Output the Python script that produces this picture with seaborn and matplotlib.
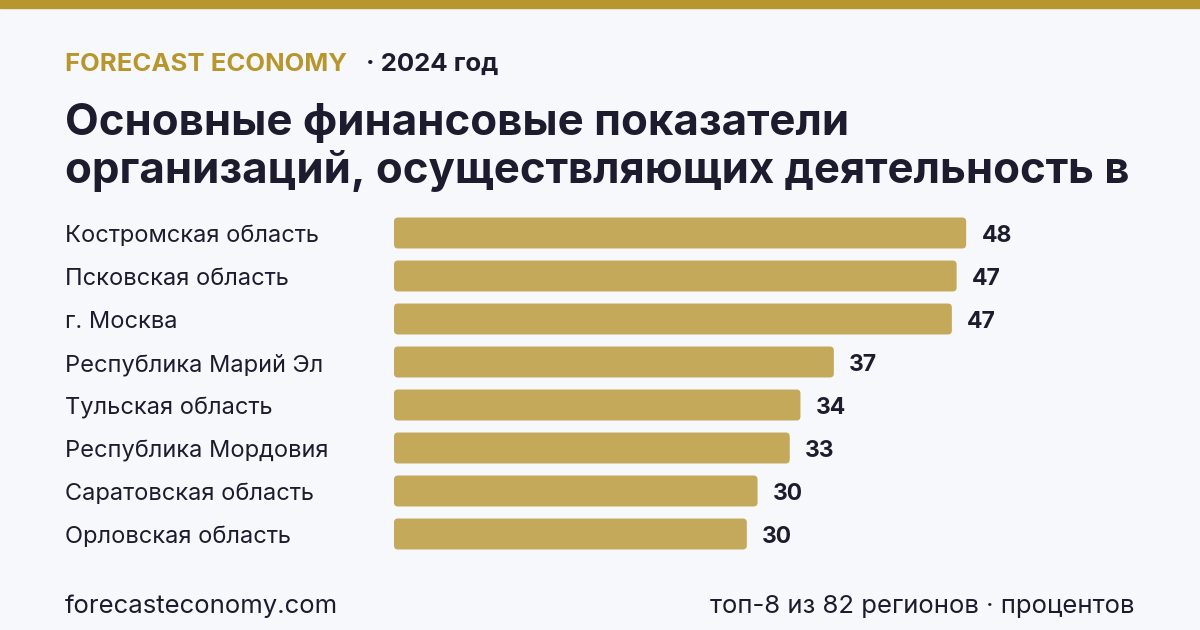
import matplotlib
matplotlib.use('Agg')
import matplotlib.pyplot as plt
import matplotlib.transforms as mtransforms
from matplotlib.patches import FancyBboxPatch
import seaborn as sns
import pandas as pd

sns.set_theme(style="white")
plt.rcParams['font.family'] = ['Inter', 'DejaVu Sans']

# Data
regions = ['Костромская область', 'Псковская область', 'г. Москва', 'Республика Марий Эл',
           'Тульская область', 'Республика Мордовия', 'Саратовская область', 'Орловская область']
values = [48.0, 47.2, 46.8, 36.9, 34.1, 33.2, 30.5, 29.6]

df = pd.DataFrame({'region': regions, 'value': values})

BG = '#f7f8fc'
GOLD = '#b8962e'
BAR = '#c4a95b'
DARK = '#1c1c2e'

fig = plt.figure(figsize=(12, 6.3), dpi=100, facecolor=BG)
ax = fig.add_axes([394 / 1200, 1 - 555.5 / 630, 655.6 / 1200, 344 / 630])
ax.set_facecolor(BG)

sns.barplot(data=df, x='value', y='region', color=BAR, width=0.72,
            saturation=1, edgecolor='none', ax=ax)
ax.set_xlim(0, 55)
ax.set_ylim(7.5, -0.5)

# round the bar corners a little
px_x = 55 / 655.6
px_y = 8 / 344
for p in list(ax.patches):
    x, y = p.get_x(), p.get_y()
    w, h = p.get_width(), p.get_height()
    rb = FancyBboxPatch((x, y), w, h,
                        boxstyle=f"round,pad=0,rounding_size={4 * px_x}",
                        mutation_aspect=px_y / px_x,
                        facecolor=BAR, edgecolor='none')
    p.remove()
    ax.add_patch(rb)

for i, v in enumerate(values):
    ax.annotate(f"{v:.0f}", (v, i), xytext=(11, -2), textcoords='offset points',
                ha='left', va='center', fontsize=16.5, fontweight='bold', color=DARK)

# category labels, left aligned at the page margin
trans = mtransforms.blended_transform_factory(fig.transFigure, ax.transData)
off = mtransforms.offset_copy(trans, fig=fig, x=0, y=-3, units='dots')
for i, r in enumerate(regions):
    ax.text(65 / 1200, i, r, transform=off, ha='left', va='center',
            fontsize=17, color=DARK)

ax.set_xlabel('')
ax.set_ylabel('')
ax.set_xticks([])
ax.set_yticks([])
sns.despine(ax=ax, left=True, bottom=True)

# top band
fig.patches.append(plt.Rectangle((0, 1 - 8 / 630), 1, 8 / 630, transform=fig.transFigure,
                                 color=GOLD, zorder=0))

# header
fig.text(65 / 1200, 1 - 71 / 630, 'FORECAST ECONOMY', fontsize=18.5, fontweight='bold',
         color=GOLD, ha='left', va='baseline')
fig.text(366 / 1200, 1 - 71 / 630, '· 2024 год', fontsize=18.5, fontweight='bold',
         color=DARK, ha='left', va='baseline')

fig.text(65 / 1200, 1 - 135 / 630, 'Основные финансовые показатели', fontsize=31.5,
         fontweight='bold', color=DARK, ha='left', va='baseline')
fig.text(65 / 1200, 1 - 183 / 630, 'организаций, осуществляющих деятельность в', fontsize=31.5,
         fontweight='bold', color=DARK, ha='left', va='baseline')

# footer
fig.text(65 / 1200, 1 - 613 / 630, 'forecasteconomy.com', fontsize=18.5,
         color=DARK, ha='left', va='baseline')
fig.text(1135 / 1200, 1 - 613 / 630, 'топ-8 из 82 регионов · процентов', fontsize=18.5,
         color=DARK, ha='right', va='baseline')

fig.savefig('out.png', dpi=100, facecolor=BG)
